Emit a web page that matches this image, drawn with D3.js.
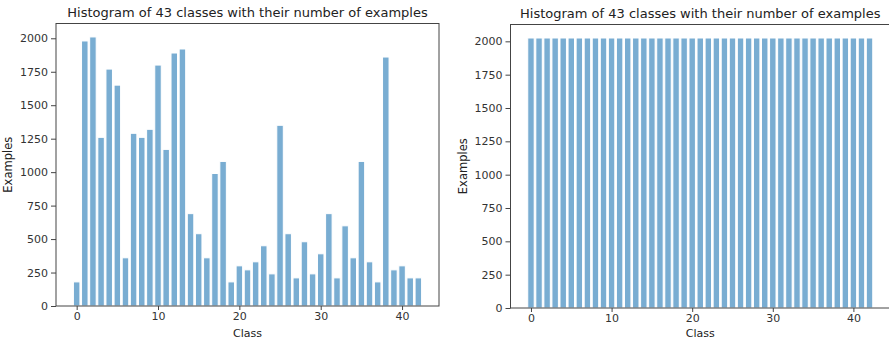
<!DOCTYPE html>
<html><head><meta charset="utf-8">
<script src="https://cdn.jsdelivr.net/npm/d3@7"></script>
<style>body{margin:0;background:#fff}svg{display:block}text{font-family:"DejaVu Sans",sans-serif}</style>
</head><body><svg id="c" width="889" height="339"></svg>
<script>
const classes = [0,1,2,3,4,5,6,7,8,9,10,11,12,13,14,15,16,17,18,19,20,21,22,23,24,25,26,27,28,29,30,31,32,33,34,35,36,37,38,39,40,41,42];
const countsBefore = [180,1980,2010,1260,1770,1650,360,1290,1260,1320,1800,1170,1890,1920,690,540,360,990,1080,180,300,270,330,450,240,1350,540,210,480,240,390,690,210,599,360,1080,330,180,1860,270,300,210,210];
const countsAfter = [2025,2025,2025,2025,2025,2025,2025,2025,2025,2025,2025,2025,2025,2025,2025,2025,2025,2025,2025,2025,2025,2025,2025,2025,2025,2025,2025,2025,2025,2025,2025,2025,2025,2025,2025,2025,2025,2025,2025,2025,2025,2025,2025];
const yTicks = [0,250,500,750,1000,1250,1500,1750,2000];
const xTicks = [0,10,20,30,40];
const titleText = "Histogram of 43 classes with their number of examples";
const xLabel = "Class", yLabel = "Examples";

const svg = d3.select("#c");
const barColor = "#79add2", ink = "#333", spine = "#444";

function panel(vals, box){
  const g = svg.append("g");
  const xmin = d3.min(classes)-0.4, xmax = d3.max(classes)+0.4, pad=(xmax-xmin)*0.05;
  const x = d3.scaleLinear().domain([xmin-pad, xmax+pad]).range([box.l, box.r]);
  const y = d3.scaleLinear().domain([0, d3.max(vals)*1.05]).range([box.b, box.t]);
  g.selectAll("rect.bar").data(classes).enter().append("rect")
    .attr("x", d=>x(d-0.4)).attr("width", x(0.8)-x(0))
    .attr("y", (d,i)=>y(vals[i])).attr("height",(d,i)=>y(0)-y(vals[i]))
    .attr("fill", barColor).attr("stroke","#fff").attr("stroke-width",1);
  const ya = g.append("g").attr("transform",`translate(${box.l},0)`)
    .call(d3.axisLeft(y).tickValues(yTicks).tickSize(5).tickPadding(3).tickFormat(d3.format("d")));
  const xa = g.append("g").attr("transform",`translate(0,${box.b})`)
    .call(d3.axisBottom(x).tickValues(xTicks).tickSize(4).tickPadding(2).tickFormat(d3.format("d")));
  [ya,xa].forEach(a=>{a.select(".domain").remove();a.selectAll("line").attr("stroke",spine);
    a.selectAll("text").attr("fill",ink).style("font-size","11px").style("font-family","DejaVu Sans");});
  g.append("rect").attr("x",box.l).attr("y",box.t).attr("width",box.r-box.l).attr("height",box.b-box.t)
    .attr("fill","none").attr("stroke",spine).attr("stroke-width",1);
  const cx=(box.l+box.r)/2;
  g.append("text").attr("x",cx).attr("y",box.t-7).attr("text-anchor","middle").attr("fill","#222")
    .style("font-size","13px").text(titleText);
  g.append("text").attr("x",cx).attr("y",336.5).attr("text-anchor","middle").attr("fill","#222")
    .style("font-size","11px").text(xLabel);
  g.append("text").attr("transform",`translate(${box.l-44},${(box.t+box.b)/2}) rotate(-90)`).attr("text-anchor","middle").attr("fill","#222")
    .style("font-size","11.5px").text(yLabel);
}
panel(countsBefore,{l:56,r:439,t:23.5,b:306});
panel(countsAfter,{l:510.5,r:890,t:24.5,b:308});
</script></body></html>
